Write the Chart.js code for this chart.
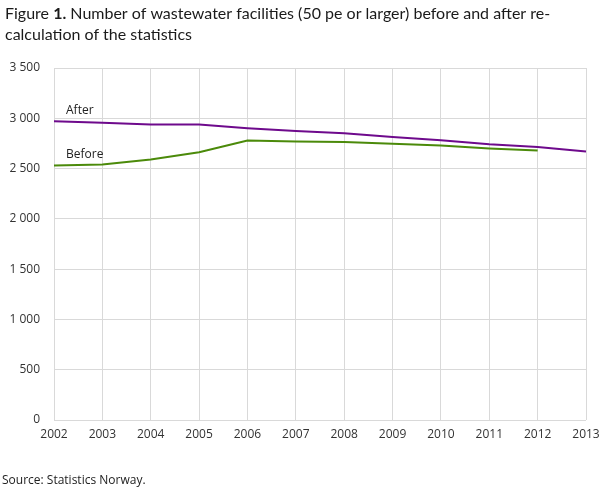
<!DOCTYPE html>
<html>
<head>
<meta charset="utf-8">
<script src="https://cdn.jsdelivr.net/npm/chart.js@4/dist/chart.umd.min.js"></script>
<style>
  html, body { margin: 0; padding: 0; background: #fff; }
  #wrap { width: 609px; height: 489px; position: relative; }
</style>
</head>
<body>
<div id="wrap"><canvas id="wasteChart"></canvas></div>
<script>
// Years on the x axis
var years = ["2002", "2003", "2004", "2005", "2006", "2007", "2008", "2009", "2010", "2011", "2012", "2013"];

// Number of facilities
var afterValues = [2970, 2955, 2937, 2937, 2900, 2873, 2850, 2815, 2782, 2743, 2715, 2670];
var beforeValues = [2530, 2540, 2590, 2663, 2780, 2770, 2763, 2747, 2730, 2700, 2680, null];

var titleStart = "Figure ";
var titleNumber = "1.";
var titleRest = " Number of wastewater facilities (50 pe or larger) before and after re-";
var titleLine2 = "calculation of the statistics";
var sourceText = "Source: Statistics Norway.";

var textFont = "'Open Sans', sans-serif";
var titleFont = "Lato, sans-serif";

// draws title, source and the two series labels
var textPlugin = {
    id: 'texts',
    afterDraw: function(chart) {
        var c = chart.ctx;
        c.save();
        c.fillStyle = '#1a1a1a';
        c.textAlign = 'left';
        c.textBaseline = 'alphabetic';

        // title, with the figure number in bold
        var x = 5;
        c.font = "16px " + titleFont;
        c.fillText(titleStart, x, 19);
        x += c.measureText(titleStart).width;
        c.font = "bold 16px " + titleFont;
        c.fillText(titleNumber, x, 19);
        x += c.measureText(titleNumber).width;
        c.font = "16px " + titleFont;
        c.fillText(titleRest, x, 19);
        c.fillText(titleLine2, 5, 40);

        c.fillStyle = '#222';
        c.font = "12px " + textFont;
        c.fillText(sourceText, 2, 484);

        // series labels next to the first point
        var lx = chart.scales.x.getPixelForValue(0) + 12;
        c.font = "12px " + textFont;
        c.textBaseline = 'bottom';
        c.fillText("After", lx, chart.scales.y.getPixelForValue(afterValues[0]) - 5);
        c.fillText("Before", lx, chart.scales.y.getPixelForValue(beforeValues[0]) - 5);
        c.restore();
    }
};

var data = {
    labels: years,
    datasets: [{
        label: 'After',
        data: afterValues,
        borderColor: '#6e0a8c',
        backgroundColor: '#6e0a8c',
        borderWidth: 2,
        pointRadius: 0,
        tension: 0,
    }, {
        label: 'Before',
        data: beforeValues,
        borderColor: '#4b8a0a',
        backgroundColor: '#4b8a0a',
        borderWidth: 2,
        pointRadius: 0,
        tension: 0,
    }]
};

var options = {
    responsive: true,
    maintainAspectRatio: false,
    animation: false,
    layout: {
        padding: { top: 68, right: 23, bottom: 39, left: 0 }
    },
    scales: {
        x: {
            type: 'category',
            offset: false,
            grid: {
                color: '#d9d9d9',
                drawTicks: false,
            },
            border: { display: false },
            ticks: {
                color: '#333',
                font: { family: textFont, size: 12 },
                padding: 7,
                maxRotation: 0,
                autoSkip: false,
            },
            afterFit: function(scale) { scale.height = 30; }
        },
        y: {
            min: 0,
            max: 3500,
            grid: {
                color: '#d9d9d9',
                drawTicks: false,
            },
            border: { display: false },
            ticks: {
                stepSize: 500,
                color: '#333',
                font: { family: textFont, size: 12 },
                padding: 14,
                callback: function(v) {
                    return String(v).replace(/\B(?=(\d{3})+(?!\d))/g, ' ');
                }
            },
            afterFit: function(scale) { scale.width = 54; }
        }
    },
    plugins: {
        legend: { display: false },
        tooltip: { enabled: false }
    }
};

var ctx = document.getElementById('wasteChart').getContext('2d');
var wasteChart = new Chart(ctx, {
    type: 'line',
    data: data,
    options: options,
    plugins: [textPlugin]
});
</script>
</body>
</html>
